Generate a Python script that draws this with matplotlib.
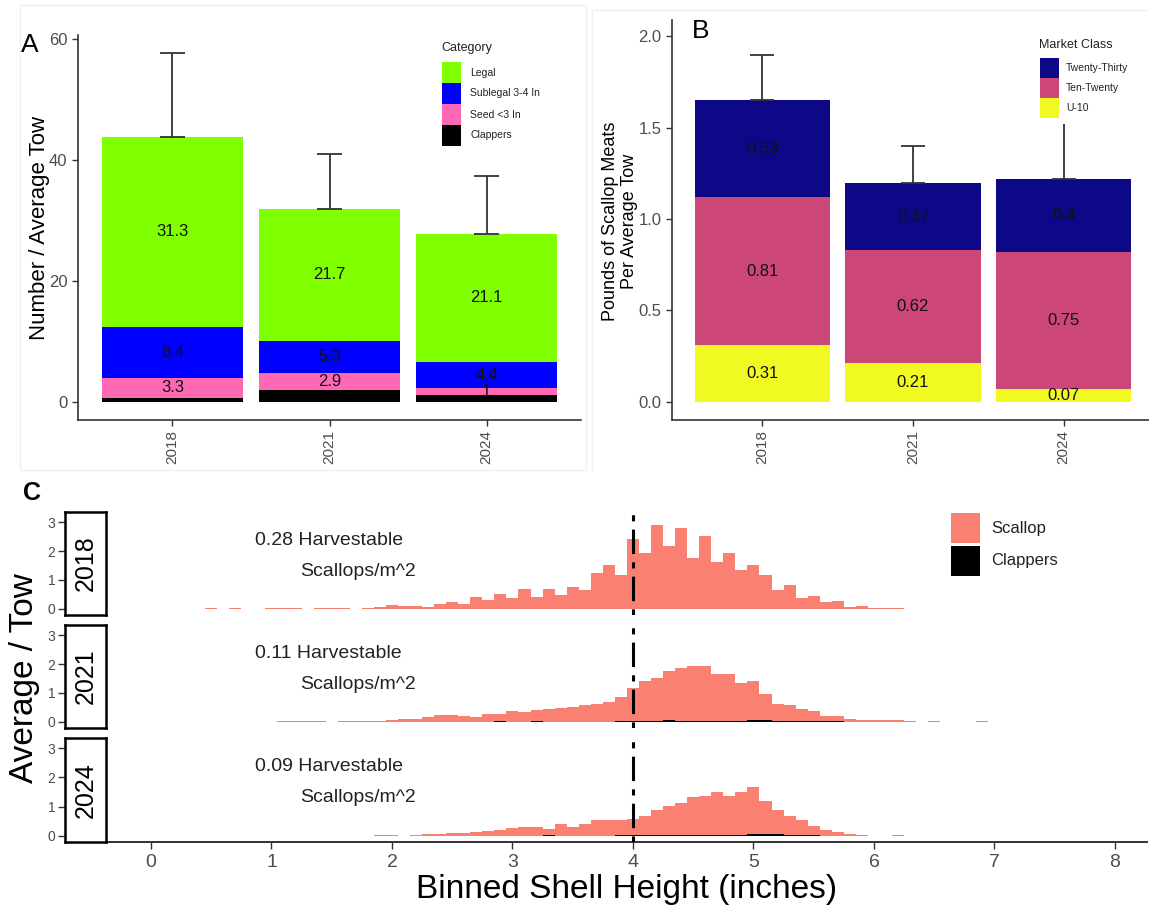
import matplotlib
matplotlib.use("Agg")
import matplotlib.pyplot as plt
from matplotlib.patches import Rectangle
from matplotlib.lines import Line2D

# ---------------- data ----------------
years = ["2018", "2021", "2024"]

# Panel A: number per average tow (stack bottom -> top)
clappers_A = [0.8, 2.0, 1.3]
seed_A = [3.3, 2.9, 1.0]
sublegal_A = [8.4, 5.3, 4.4]
legal_A = [31.3, 21.7, 21.1]
err_top_A = [57.7, 41.0, 37.3]
cat_labels = ["Legal", "Sublegal 3-4 In", "Seed <3 In", "Clappers"]
cat_colors = ['#7FFF00', '#0000FF', '#FF69B4', 'black']

# Panel B: pounds of meats per average tow (stack bottom -> top)
u10_B = [0.31, 0.21, 0.07]
ten_twenty_B = [0.81, 0.62, 0.75]
twenty_thirty_B = [0.53, 0.37, 0.40]
err_top_B = [1.90, 1.40, 1.98]
market_labels = ["Twenty-Thirty", "Ten-Twenty", "U-10"]
market_colors = ['#0D0887', '#CC4678', '#F0F921']

# Panel C: binned shell height histograms (bin centres, inches)
size_2018 = [0.5, 0.7, 1.0, 1.1, 1.2, 1.4, 1.5, 1.6, 1.8,
             1.9, 2.0, 2.1, 2.2, 2.3, 2.4, 2.5, 2.6, 2.7, 2.8, 2.9,
             3.0, 3.1, 3.2, 3.3, 3.4, 3.5, 3.6, 3.7, 3.8, 3.9,
             4.0, 4.1, 4.2, 4.3, 4.4, 4.5, 4.6, 4.7, 4.8, 4.9,
             5.0, 5.1, 5.2, 5.3, 5.4, 5.5, 5.6, 5.7, 5.8, 5.9,
             6.0, 6.1, 6.2]
scallop_2018 = [0.02, 0.02, 0.02, 0.02, 0.02, 0.02, 0.02, 0.02, 0.02,
                0.06, 0.12, 0.09, 0.11, 0.08, 0.18, 0.25, 0.16, 0.41, 0.32, 0.50,
                0.39, 0.69, 0.41, 0.69, 0.48, 0.75, 0.64, 1.25, 1.52, 1.18,
                2.43, 1.93, 2.90, 2.18, 2.81, 1.76, 2.52, 1.61, 1.93, 1.34,
                1.52, 1.18, 0.66, 0.84, 0.38, 0.45, 0.25, 0.28, 0.07, 0.11,
                0.03, 0.03, 0.03]
clap_size_2018 = []
clap_2018 = []

size_2021 = [1.1, 1.2, 1.3, 1.4,
             1.6, 1.7, 1.8, 1.9, 2.0, 2.1, 2.2, 2.3, 2.4, 2.5, 2.6, 2.7, 2.8, 2.9,
             3.0, 3.1, 3.2, 3.3, 3.4, 3.5, 3.6, 3.7, 3.8, 3.9,
             4.0, 4.1, 4.2, 4.3, 4.4, 4.5, 4.6, 4.7, 4.8, 4.9,
             5.0, 5.1, 5.2, 5.3, 5.4, 5.5, 5.6, 5.7, 5.8, 5.9,
             6.0, 6.1, 6.2, 6.3, 6.5, 6.9]
scallop_2021 = [0.02, 0.02, 0.02, 0.02,
                0.02, 0.03, 0.04, 0.04, 0.06, 0.09, 0.11, 0.16, 0.25, 0.23, 0.21, 0.16, 0.29, 0.29,
                0.37, 0.34, 0.41, 0.45, 0.48, 0.53, 0.57, 0.62, 0.69, 0.86,
                1.17, 1.40, 1.53, 1.75, 1.87, 1.92, 1.92, 1.64, 1.64, 1.34,
                1.40, 0.97, 0.62, 0.57, 0.46, 0.37, 0.21, 0.21, 0.11, 0.05,
                0.05, 0.05, 0.05, 0.02, 0.02, 0.02]
clap_size_2021 = [2.9, 3.2, 3.9, 4.0, 4.1, 4.2, 4.3, 4.4, 4.5, 4.6, 4.7, 4.8, 4.9,
                  5.0, 5.1, 5.2, 5.3, 5.4, 5.5, 5.6, 5.7]
clap_2021 = [0.04, 0.04, 0.03, 0.03, 0.03, 0.03, 0.08, 0.03, 0.03, 0.03, 0.03, 0.03, 0.03,
             0.07, 0.07, 0.03, 0.03, 0.03, 0.03, 0.03, 0.03]

size_2024 = [1.9, 2.0,
             2.2, 2.3, 2.4, 2.5, 2.6, 2.7, 2.8, 2.9,
             3.0, 3.1, 3.2, 3.3, 3.4, 3.5, 3.6, 3.7, 3.8, 3.9,
             4.0, 4.1, 4.2, 4.3, 4.4, 4.5, 4.6, 4.7, 4.8, 4.9,
             5.0, 5.1, 5.2, 5.3, 5.4, 5.5, 5.6, 5.7, 5.8, 5.9,
             6.2]
scallop_2024 = [0.02, 0.02,
                0.03, 0.05, 0.07, 0.10, 0.09, 0.14, 0.17, 0.21,
                0.26, 0.32, 0.29, 0.23, 0.40, 0.32, 0.42, 0.54, 0.54, 0.54,
                0.57, 0.69, 0.87, 1.03, 1.12, 1.33, 1.38, 1.50, 1.38, 1.50,
                1.66, 1.21, 0.87, 0.67, 0.53, 0.34, 0.21, 0.14, 0.07, 0.03,
                0.02]
clap_size_2024 = [3.3, 3.9, 4.0, 4.1, 4.2, 4.3, 4.4, 4.5, 4.6, 4.7, 4.8, 4.9,
                  5.0, 5.1, 5.2, 5.3, 5.4, 5.5]
clap_2024 = [0.03, 0.03, 0.03, 0.03, 0.03, 0.03, 0.03, 0.03, 0.03, 0.03, 0.03, 0.03,
             0.06, 0.06, 0.06, 0.03, 0.03, 0.03]

harvestable = ["0.28", "0.11", "0.09"]
hist_labels = ["Scallop", "Clappers"]
hist_colors = ['#FA8072', 'black']
legal_size = 4.0

# ---------------- figure ----------------
W, H = 1149, 913
plt.rcParams['font.family'] = ['Liberation Sans', 'DejaVu Sans']
fig = plt.figure(figsize=(W / 100, H / 100), dpi=100)

AX_COL = '#333333'
TICK_COL = '#4D4D4D'


def fx(x):
    return x / W


def fy(y):
    return 1 - y / H


def add_ax(l, t, r, b):
    return fig.add_axes([l / W, 1 - b / H, (r - l) / W, (b - t) / H])


def classic(ax):
    for s in ['top', 'right']:
        ax.spines[s].set_visible(False)
    for s in ['left', 'bottom']:
        ax.spines[s].set_color(AX_COL)
        ax.spines[s].set_linewidth(1.2)
    ax.tick_params(color=AX_COL, length=4, width=1.0, labelcolor=TICK_COL)


def fig_rect(l, t, r, b, color, z=6):
    fig.patches.append(Rectangle((fx(l), fy(b)), (r - l) / W, (b - t) / H,
                                 transform=fig.transFigure, facecolor=color,
                                 edgecolor='none', zorder=z))


def manual_legend(title, labels, colors, key_l, key_r, tops, key_h, text_x,
                  title_y, fontsize, title_size, bg=None):
    if bg is not None:
        fig_rect(*bg, 'white', z=5)
    if title:
        fig.text(fx(key_l - 1), fy(title_y), title, ha='left', va='center',
                 fontsize=title_size, color='#222222', zorder=7)
    for lab, col, t in zip(labels, colors, tops):
        fig_rect(key_l, t, key_r, t + key_h, col)
        fig.text(fx(text_x), fy(t + key_h / 2), lab, ha='left', va='center',
                 fontsize=fontsize, color='#222222', zorder=7)


# faint panel frames
FAINT = '#f0f0f0'
fig.patches.append(Rectangle((fx(20), fy(470)), fx(566), (470 - 5) / H,
                             transform=fig.transFigure, fill=False,
                             edgecolor=FAINT, lw=1))
fig.lines.append(Line2D([fx(592), fx(592)], [fy(10), fy(470)],
                        transform=fig.transFigure, color=FAINT, lw=1))
fig.lines.append(Line2D([fx(592), fx(1149)], [fy(10), fy(10)],
                        transform=fig.transFigure, color=FAINT, lw=1))

xpos = [1, 2, 3]

# ---------------- Panel A ----------------
axA = add_ax(78, 35, 581, 420)
bottoms = [0.0, 0.0, 0.0]
for vals, col, lab in [(clappers_A, cat_colors[3], False), (seed_A, cat_colors[2], True),
                       (sublegal_A, cat_colors[1], True), (legal_A, cat_colors[0], True)]:
    axA.bar(xpos, vals, 0.9, bottom=bottoms, color=col, linewidth=0)
    if lab:
        for xi, v, b in zip(xpos, vals, bottoms):
            axA.text(xi, b + v / 2, f"{v:g}", ha='center', va='center',
                     fontsize=12, color='#111111')
    bottoms = [b + v for b, v in zip(bottoms, vals)]
totA = bottoms
axA.vlines(xpos, totA, err_top_A, color=AX_COL, lw=1.3)
axA.hlines(err_top_A, [x - 0.08 for x in xpos], [x + 0.08 for x in xpos], color=AX_COL, lw=1.3)
axA.hlines(totA, [x - 0.08 for x in xpos], [x + 0.08 for x in xpos], color=AX_COL, lw=1.3)
axA.set_xlim(0.4, 3.6)
axA.set_ylim(-2.9, 60.6)
axA.set_yticks([0, 20, 40, 60])
axA.set_xticks(xpos)
axA.set_xticklabels(years, rotation=90, fontsize=11)
axA.tick_params(axis='y', labelsize=12)
classic(axA)
fig.text(fx(40), fy(228), "Number / Average Tow", rotation=90, ha='center', va='center',
         fontsize=16, color='black')
fig.text(fx(30), fy(45), "A", ha='center', va='center', fontsize=19, color='black')

manual_legend("Category", cat_labels, cat_colors, 442, 461, [62, 83, 104, 125], 21,
              470, 48, 7.5, 9)

# ---------------- Panel B ----------------
axB = add_ax(672, 20, 1154, 420)
bottoms = [0.0, 0.0, 0.0]
for vals, col in [(u10_B, market_colors[2]), (ten_twenty_B, market_colors[1]),
                  (twenty_thirty_B, market_colors[0])]:
    axB.bar(xpos, vals, 0.9, bottom=bottoms, color=col, linewidth=0)
    for xi, v, b in zip(xpos, vals, bottoms):
        axB.text(xi, b + v / 2, f"{v:g}", ha='center', va='center',
                 fontsize=12, color='#111111')
    bottoms = [b + v for b, v in zip(bottoms, vals)]
totB = bottoms
axB.vlines(xpos, totB, err_top_B, color=AX_COL, lw=1.3)
axB.hlines(err_top_B, [x - 0.08 for x in xpos], [x + 0.08 for x in xpos], color=AX_COL, lw=1.3)
axB.hlines(totB, [x - 0.08 for x in xpos], [x + 0.08 for x in xpos], color=AX_COL, lw=1.3)
axB.set_xlim(0.4, 3.6)
axB.set_ylim(-0.0995, 2.09)
axB.set_yticks([0.0, 0.5, 1.0, 1.5, 2.0])
axB.set_yticklabels(["0.0", "0.5", "1.0", "1.5", "2.0"])
axB.set_xticks(xpos)
axB.set_xticklabels(years, rotation=90, fontsize=11)
axB.tick_params(axis='y', labelsize=12)
classic(axB)
fig.text(fx(620), fy(221), "Pounds of Scallop Meats\nPer Average Tow", rotation=90,
         ha='center', va='center', fontsize=13, color='black', multialignment='center',
         linespacing=1.1)
fig.text(fx(701), fy(31), "B", ha='center', va='center', fontsize=19, color='black')

manual_legend("Market Class", market_labels, market_colors, 1040, 1059, [58, 78, 98], 20,
              1066, 45, 7.5, 9, bg=(1032, 33, 1140, 124))

# ---------------- Panel C ----------------
rows = [(512, 615), (625, 728), (738, 842)]
series = [(size_2018, scallop_2018, clap_size_2018, clap_2018),
          (size_2021, scallop_2021, clap_size_2021, clap_2021),
          (size_2024, scallop_2024, clap_size_2024, clap_2024)]
XL = (-0.373, 8.266)
YL = (-0.21, 3.35)
for i, (yr, (sz, sc, csz, cc), harv) in enumerate(zip(years, series, harvestable)):
    t, b = rows[i]
    ax = add_ax(106, t, 1147, b)
    ax.bar(sz, sc, width=0.1, color=hist_colors[0], linewidth=0, zorder=2)
    if csz:
        ax.bar(csz, cc, width=0.1, color=hist_colors[1], linewidth=0, zorder=3)
    ax.axvline(legal_size, color='black', lw=2.2, dashes=(2, 2.7, 8, 2.7), zorder=4)
    ax.set_xlim(*XL)
    ax.set_ylim(*YL)
    ax.set_yticks([])
    for s in ['top', 'right', 'left']:
        ax.spines[s].set_visible(False)
    ax.text(0.863, 2.38, f"{harv} Harvestable", ha='left', va='center', fontsize=14, color='#222222')
    ax.text(1.237, 1.31, "Scallops/m^2", ha='left', va='center', fontsize=14, color='#222222')
    if i < 2:
        ax.spines['bottom'].set_visible(False)
        ax.set_xticks([])
    else:
        ax.spines['bottom'].set_color(AX_COL)
        ax.spines['bottom'].set_linewidth(1.4)
        ax.set_xticks(range(0, 9))
        ax.tick_params(axis='x', color=AX_COL, length=5, width=1.0, labelcolor=TICK_COL,
                       labelsize=14)
        ax.set_xlabel("Binned Shell Height (inches)", fontsize=24, color='black', labelpad=2)
    # strip box with y axis
    st = add_ax(65, t, 106, b)
    st.set_ylim(*YL)
    st.set_xticks([])
    st.set_yticks([0, 1, 2, 3])
    st.tick_params(axis='y', color=AX_COL, length=5, width=1.0, labelcolor=TICK_COL,
                   labelsize=10, pad=2)
    for s in st.spines.values():
        s.set_color('black')
        s.set_linewidth(1.8)
    st.text(0.5, 0.5, yr, rotation=90, ha='center', va='center', fontsize=18,
            color='black', transform=st.transAxes)

fig.text(fx(25), fy(678), "Average / Tow", rotation=90, ha='center', va='center',
         fontsize=24, color='black')
fig.text(fx(32), fy(493), "C", ha='center', va='center', fontsize=18, fontweight='bold',
         color='black')

manual_legend(None, hist_labels, hist_colors, 951, 980, [513, 546], 30, 991, 0, 12, 12)

fig.savefig("out.png", dpi=100)
